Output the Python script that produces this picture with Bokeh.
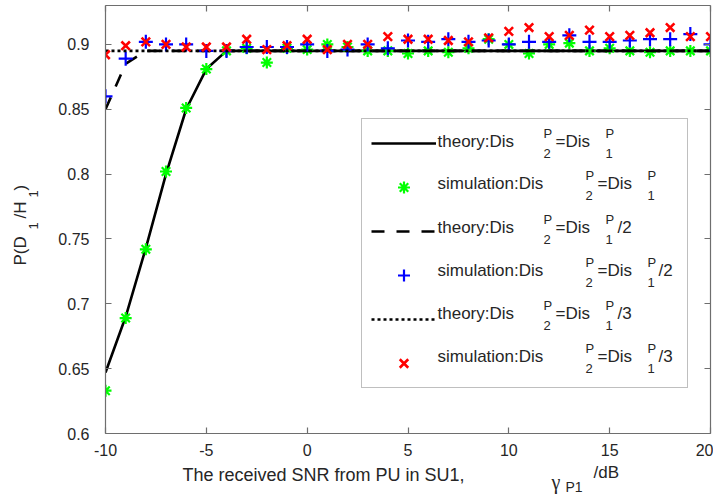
import math
from bokeh.plotting import figure
from bokeh.layouts import row, column
from bokeh.models import Range1d, LinearAxis, FixedTicker, Label, Legend, LegendItem
from bokeh.embed import file_html
from bokeh.resources import INLINE
from bokeh.core.properties import value

# ---------------- data ----------------
snr_db = [-10, -9, -8, -7, -6, -5, -4, -3, -2, -1, 0, 1, 2, 3, 4, 5, 6, 7, 8, 9,
          10, 11, 12, 13, 14, 15, 16, 17, 18, 19, 20]

theory_dis = [0.647, 0.690, 0.743, 0.800, 0.850, 0.881, 0.895, 0.895, 0.895, 0.895,
              0.895, 0.895, 0.895, 0.895, 0.895, 0.895, 0.895, 0.895, 0.895, 0.895,
              0.895, 0.895, 0.895, 0.895, 0.895, 0.895, 0.895, 0.895, 0.895, 0.895, 0.895]
sim_dis = [0.633, 0.689, 0.742, 0.802, 0.851, 0.881, 0.895, 0.897, 0.886, 0.897,
           0.896, 0.900, 0.898, 0.895, 0.895, 0.893, 0.895, 0.894, 0.897, 0.904,
           0.900, 0.893, 0.900, 0.901, 0.895, 0.897, 0.895, 0.894, 0.895, 0.895, 0.895]

theory_dis2 = [0.850, 0.885, 0.895, 0.895, 0.895, 0.895, 0.895, 0.895, 0.895, 0.895,
               0.895, 0.895, 0.895, 0.895, 0.895, 0.895, 0.895, 0.895, 0.895, 0.895,
               0.895, 0.895, 0.895, 0.895, 0.895, 0.895, 0.895, 0.895, 0.895, 0.895, 0.895]
sim_dis2 = [0.860, 0.889, 0.902, 0.900, 0.900, 0.895, 0.895, 0.898, 0.898, 0.898,
            0.900, 0.895, 0.896, 0.900, 0.897, 0.903, 0.902, 0.904, 0.902, 0.903,
            0.900, 0.902, 0.902, 0.907, 0.902, 0.902, 0.903, 0.904, 0.904, 0.908, 0.900]

theory_dis3 = [0.895, 0.895, 0.895, 0.895, 0.895, 0.895, 0.895, 0.895, 0.895, 0.895,
               0.895, 0.895, 0.895, 0.895, 0.895, 0.895, 0.895, 0.895, 0.895, 0.895,
               0.895, 0.895, 0.895, 0.895, 0.895, 0.895, 0.895, 0.895, 0.895, 0.895, 0.895]
sim_dis3 = [0.892, 0.899, 0.902, 0.900, 0.898, 0.898, 0.898, 0.904, 0.896, 0.899,
            0.904, 0.896, 0.900, 0.900, 0.906, 0.904, 0.904, 0.903, 0.902, 0.905,
            0.910, 0.913, 0.906, 0.907, 0.911, 0.906, 0.907, 0.909, 0.913, 0.906, 0.906]

x_ticks = [-10, -5, 0, 5, 10, 15, 20]
x_tick_labels = ["-10", "-5", "0", "5", "10", "15", "20"]
y_ticks = [0.6, 0.65, 0.7, 0.75, 0.8, 0.85, 0.9]
y_tick_labels = ["0.6", "0.65", "0.7", "0.75", "0.8", "0.85", "0.9"]

legend_names = ["theory:Dis", "simulation:Dis", "theory:Dis", "simulation:Dis",
                "theory:Dis", "simulation:Dis"]
legend_suffix = ["", "", "/2", "/2", "/3", "/3"]
x_label_text = "The received SNR from PU in SU1,"

X0, X1 = -10, 20
Y0, Y1 = 0.6, 0.93

# ---------------- layout constants (pixels, whole page) ----------------
W, H = 713, 499
YLAB_W = 45                 # strip at the left holding the y label
MAIN_H = 462                # main plot height (bottom strip holds x label)
FL, FT, FR, FB = 105, 5, 710, 433

FONT = "Liberation Sans"
TXT = "#262626"
AX = "#6e6e6e"
MAIN = "17px"
SMALL = "13px"

p = figure(width=W - YLAB_W, height=MAIN_H, output_backend="svg", toolbar_location=None,
           x_range=Range1d(X0, X1), y_range=Range1d(Y0, Y1),
           min_border_left=FL - YLAB_W, min_border_right=W - FR,
           min_border_top=FT, min_border_bottom=MAIN_H - FB)
p.frame_align = False
p.outline_line_color = None
p.grid.visible = False


def style_axis(ax, ticks, labels, show_labels, standoff):
    ax.ticker = FixedTicker(ticks=ticks)
    ax.major_label_overrides = {t: l for t, l in zip(ticks, labels)}
    ax.minor_tick_line_color = None
    ax.major_tick_in = 6
    ax.major_tick_out = 0
    ax.axis_line_color = AX
    ax.axis_line_width = 1.2
    ax.major_tick_line_color = AX
    ax.major_tick_line_width = 1.2
    ax.major_label_text_font = FONT
    ax.major_label_text_color = TXT
    ax.major_label_standoff = standoff
    if show_labels:
        ax.major_label_text_font_size = "16px"
    else:
        ax.major_label_text_font_size = "1px"
        ax.major_label_text_alpha = 0
        ax.major_label_standoff = 0


style_axis(p.xaxis[0], x_ticks, x_tick_labels, True, 10)
style_axis(p.yaxis[0], y_ticks, y_tick_labels, True, 16)
top_ax = LinearAxis()
right_ax = LinearAxis()
style_axis(top_ax, x_ticks, x_tick_labels, False, 0)
style_axis(right_ax, y_ticks, y_tick_labels, False, 0)
p.add_layout(top_ax, "above")
p.add_layout(right_ax, "right")

# ---------------- series ----------------
r1 = p.line(snr_db, theory_dis, line_color="black", line_width=2.6)
r2 = p.scatter(snr_db, sim_dis, marker="asterisk", size=12, line_color="#00ff00", line_width=2.2)
r3 = p.line(snr_db, theory_dis2, line_color="black", line_width=2.6, line_dash="13 12")
r4 = p.scatter(snr_db, sim_dis2, marker="cross", size=14, line_color="#0000ff", line_width=2.2)
r5 = p.line(snr_db, theory_dis3, line_color="black", line_width=2.6, line_dash="3 3")
r6 = p.scatter(snr_db, sim_dis3, marker="x", size=12, line_color="#ff0000", line_width=2.6)

legend = Legend(items=[LegendItem(label="\u00a0", renderers=[r]) for r in (r1, r2, r3, r4, r5, r6)],
                location=(361 - FL, FB - 388), margin=0, padding=9, spacing=14,
                glyph_width=65, glyph_height=30, label_height=30, label_width=239,
                label_standoff=3, border_line_color="#7f7f7f", border_line_width=1.2,
                background_fill_color="white", background_fill_alpha=0.0,
                label_text_font_size="17px", label_text_font=FONT)
p.add_layout(legend)


def lab(text, px, py, size):
    # position given in page pixels; Label screen units are frame-relative (y up)
    p.add_layout(Label(x=px - FL, y=FB - py, x_units="screen", y_units="screen",
                       text=text, text_font=FONT, text_font_size=size, text_color=TXT,
                       text_align="left", text_baseline="middle"))


main_y = [141, 183, 227, 270, 313, 356]
for i, yy in enumerate(main_y):
    theory = (i % 2 == 0)
    lab(legend_names[i], 437, yy, MAIN)
    x_a = 543 if theory else 585
    x_b = 555 if theory else 597
    x_c = 605 if theory else 647
    x_d = 617 if theory else 658
    lab("P", x_a, yy - 8, SMALL)
    lab("2", x_a, yy + 12, SMALL)
    lab("=Dis", x_b, yy, MAIN)
    lab("P", x_c, yy - 8, SMALL)
    lab("1", x_c, yy + 12, SMALL)
    if legend_suffix[i]:
        lab(legend_suffix[i], x_d, yy, MAIN)


# ---------------- label strips (ranges in page pixels) ----------------
def strip(x_left, y_top, w, h):
    f = figure(width=w, height=h, output_backend="svg", toolbar_location=None,
               x_range=Range1d(x_left, x_left + w), y_range=Range1d(y_top + h, y_top),
               x_axis_location=None, y_axis_location=None,
               min_border=0, min_border_left=0, min_border_right=0,
               min_border_top=0, min_border_bottom=0)
    f.frame_align = False
    f.outline_line_color = None
    f.grid.visible = False
    return f


def stext(f, texts, xs, ys, size, angle=0.0, font=FONT):
    f.text(x=xs, y=ys, text=texts, text_font=value(font), text_font_size=value(size),
           text_color=TXT, text_align="left", text_baseline="middle", angle=angle)


# x label strip: page x 45..713, y 462..499
xl = strip(YLAB_W, MAIN_H, W - YLAB_W, H - MAIN_H)
stext(xl, [x_label_text], [182], [474], "18px")
stext(xl, ["\u03b3"], [551], [481], "20px", font="Liberation Serif")
stext(xl, ["P1"], [565], [486], "14px")
stext(xl, ["/dB"], [593], [472], MAIN)

# y label strip: page x 0..45, y 0..499
yl = strip(0, 0, YLAB_W, H)
rot = math.pi / 2
stext(yl, ["P(D", "/H", ")"], [20, 20, 20], [265, 218, 190], MAIN, angle=rot)
stext(yl, ["1", "1"], [33, 33], [229, 197], SMALL, angle=rot)

layout = row(yl, column(p, xl, spacing=0), spacing=0)
open("out.html", "w").write(file_html(layout, INLINE))
